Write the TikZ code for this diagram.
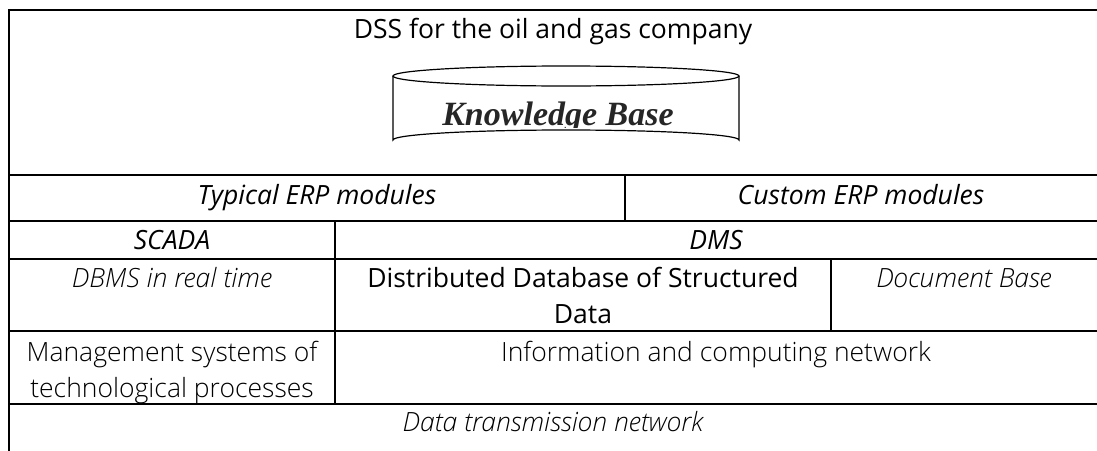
\documentclass[tikz,border=0pt]{standalone}
\usepackage{fontspec}
\setmainfont{Open Sans}
\newfontfamily\lightfont{Open Sans Light}
\newfontfamily\kbfont{Liberation Serif}
\begin{document}
\begin{tikzpicture}[x=1pt,y=-1pt,
  rule/.style={line width=2pt,line join=miter},
  cell/.style={anchor=base,inner sep=0pt,align=center,
    font=\fontsize{26.5}{36}\selectfont},
  lite/.style={cell,font=\fontsize{26.5}{36}\selectfont\lightfont}]
\useasboundingbox (0,0) rectangle (1097,450);
\clip (0,0) rectangle (1097,450);

% table frame and horizontal rules
\draw[rule] (9,470) -- (9,10) -- (1110,10);
\foreach \y in {175,221,259,331,404}
  \draw[rule] (9,\y) -- (1110,\y);
% vertical dividers
\draw[rule] (625,175) -- (625,221);
\draw[rule] (335,221) -- (335,404);
\draw[rule] (831,259) -- (831,331);

% knowledge base cylinder
\draw[line width=1.2pt] (566,76) ellipse [x radius=173, y radius=10];
\draw[line width=1.2pt] (393,76) -- (393,140) arc[start angle=180,end angle=360,x radius=173,y radius=10] -- (739,76);
\begin{scope}
  \clip (0,0) rectangle (1097,127.5);
  \node[anchor=base,inner sep=0pt,text=black!85,
    font=\fontsize{34}{40}\selectfont\kbfont\bfseries\itshape] (kb) at (558,125) {Knowledge Base};
\end{scope}

% cell texts (multi-line nodes sit on the baseline of their last line)
\node[cell] (title) at (553,38) {DSS for the oil and gas company};
\node[cell,font=\fontsize{26.5}{36}\selectfont\itshape] (typ) at (317,204) {Typical ERP modules};
\node[cell,font=\fontsize{26.5}{36}\selectfont\itshape] (cus) at (861,204) {Custom ERP modules};
\node[cell,font=\fontsize{26.5}{36}\selectfont\itshape] (scada) at (172,249) {SCADA};
\node[cell,font=\fontsize{26.5}{36}\selectfont\itshape] (dms) at (716,249) {DMS};
\node[lite,font=\fontsize{26.5}{36}\selectfont\lightfont\itshape] (dbms) at (172,287) {DBMS in real time};
\node[cell] (ddb) at (583,323) {Distributed Database of Structured\\Data};
\node[lite,font=\fontsize{26.5}{36}\selectfont\lightfont\itshape] (doc) at (964,287) {Document Base};
\node[lite] (mgmt) at (172,397) {Management systems of\\technological processes};
\node[lite] (icn) at (716,361) {Information and computing network};
\node[lite,font=\fontsize{26.5}{36}\selectfont\lightfont\itshape] (dtn) at (553,431) {Data transmission network};
\end{tikzpicture}
\end{document}
